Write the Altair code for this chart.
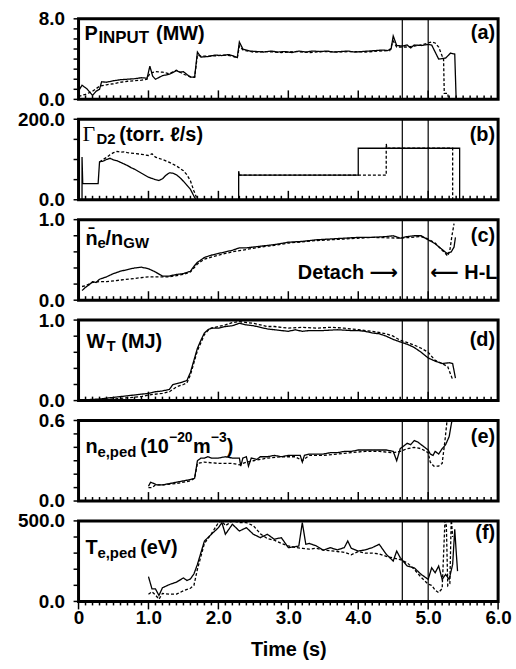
import altair as alt
import pandas as pd

SANS = "Liberation Sans"
SERIF = "Liberation Serif"
W, H = 422, 81

# ---------------- data ----------------
events = [4.63, 5.0]

a_sol_t = [0.0, 0.05, 0.12, 0.2, 0.25, 0.3, 0.33, 0.4, 0.5, 0.6, 0.7, 0.8, 0.9, 0.98, 1.02, 1.06, 1.1, 1.2, 1.3, 1.4,
           1.45, 1.5, 1.6, 1.66, 1.7, 1.75, 1.85, 1.95, 2.05, 2.15, 2.22, 2.27, 2.3, 2.35, 2.45, 2.55, 2.65, 2.75, 2.85,
           2.95, 3.05, 3.15, 3.25, 3.35, 3.45, 3.55, 3.65, 3.75, 3.85, 3.95, 4.05, 4.15, 4.25, 4.35, 4.42, 4.47, 4.5,
           4.55, 4.63, 4.7, 4.75, 4.8, 4.9, 5.0, 5.05, 5.1, 5.15, 5.25, 5.32, 5.38, 5.4, 5.41]
a_sol_v = [0.85, 1.4, 1.05, 0.4, 0.8, 1.0, 1.75, 1.7, 1.85, 1.95, 2.0, 2.05, 2.15, 2.1, 3.3, 2.3, 2.0, 2.35, 2.5, 2.85,
           2.7, 2.75, 2.2, 2.2, 4.7, 4.2, 4.25, 4.4, 4.35, 4.45, 4.3, 4.15, 5.7, 5.0, 4.8, 4.75, 4.7, 4.8, 4.7,
           4.75, 4.65, 4.8, 4.7, 4.8, 4.75, 4.8, 4.7, 4.75, 4.8, 4.7, 4.75, 4.8, 4.85, 4.9, 4.85, 5.0, 6.3,
           5.35, 5.3, 5.4, 5.1, 5.4, 5.35, 5.45, 5.4, 4.7, 4.0, 4.1, 4.6, 4.5, 0.0, 0.0]
a_dsh_t = [0.0, 0.1, 0.2, 0.3, 0.4, 0.5, 0.6, 0.7, 0.8, 0.9, 0.98, 1.02, 1.1, 1.2, 1.3, 1.4, 1.5, 1.6, 1.66, 1.7, 1.75,
           1.9, 2.0, 2.1, 2.2, 2.27, 2.3, 2.35, 2.5, 2.7, 2.9, 3.1, 3.3, 3.5, 3.7, 3.9, 4.1, 4.3, 4.45, 4.5, 4.55,
           4.7, 4.8, 4.9, 5.0, 5.05, 5.1, 5.15, 5.2, 5.22, 5.23, 5.28, 5.29]
a_dsh_v = [0.3, 0.5, 0.8, 1.3, 1.45, 1.55, 1.7, 1.8, 1.85, 1.9, 2.0, 2.6, 2.75, 2.7, 2.55, 2.9, 2.5, 2.25, 2.2, 4.4, 4.3,
           4.3, 4.35, 4.4, 4.3, 4.1, 5.3, 4.9, 4.7, 4.75, 4.65, 4.75, 4.65, 4.75, 4.7, 4.75, 4.7, 4.8, 4.85, 5.8, 5.2,
           5.2, 5.3, 5.4, 5.6, 5.7, 5.6, 5.2, 4.3, 4.1, 0.6, 0.6, 0.0]

b_sol1_t = [0.05, 0.05, 0.06, 0.28, 0.3, 0.35, 0.4, 0.45, 0.5, 0.55, 0.6, 0.65, 0.7, 0.75, 0.8, 0.85, 0.9, 0.95, 1.0,
            1.05, 1.1, 1.15, 1.2, 1.25, 1.3, 1.35, 1.4, 1.45, 1.5, 1.55, 1.6, 1.65, 1.68]
b_sol1_v = [0, 106, 40, 40, 94, 96, 100, 103, 99, 97, 93, 89, 85, 80, 76, 71, 66, 61, 56, 53, 50, 48, 52, 61, 67, 66,
            62, 55, 46, 36, 26, 9, 0]
b_sol2_t = [2.29, 2.29, 2.3, 4.0, 4.0, 5.45, 5.45]
b_sol2_v = [0, 71, 61, 61, 128, 128, 0]
b_dsh1_t = [0.3, 0.35, 0.4, 0.45, 0.5, 0.55, 0.6, 0.65, 0.7, 0.8, 0.9, 1.0, 1.05, 1.1, 1.2, 1.3, 1.4, 1.5, 1.55, 1.6,
            1.65, 1.7]
b_dsh1_v = [94, 100, 105, 112, 117, 120, 118, 119, 117, 115, 113, 110, 114, 106, 100, 93, 84, 72, 62, 47, 22, 0]
b_dsh2_t = [2.29, 4.4, 4.4, 4.41, 5.35, 5.35]
b_dsh2_v = [61, 61, 139, 128, 128, 0]

c_sol_t = [0.05, 0.1, 0.15, 0.2, 0.25, 0.3, 0.4, 0.5, 0.6, 0.7, 0.8, 0.9, 1.0, 1.1, 1.2, 1.3, 1.4, 1.5, 1.6, 1.65,
           1.7, 1.8, 1.9, 2.0, 2.1, 2.2, 2.3, 2.4, 2.5, 2.6, 2.8, 3.0, 3.2, 3.4, 3.6, 3.8, 4.0, 4.2, 4.4, 4.5, 4.6,
           4.7, 4.8, 4.9, 5.0, 5.1, 5.2, 5.27, 5.33, 5.37, 5.39]
c_sol_v = [0.12, 0.16, 0.19, 0.23, 0.22, 0.26, 0.29, 0.33, 0.36, 0.38, 0.4, 0.41, 0.39, 0.35, 0.3, 0.3, 0.32, 0.33,
           0.36, 0.42, 0.47, 0.53, 0.56, 0.58, 0.6, 0.62, 0.65, 0.65, 0.66, 0.67, 0.69, 0.72, 0.73, 0.75, 0.76, 0.77,
           0.78, 0.78, 0.79, 0.8, 0.77, 0.79, 0.8, 0.8, 0.75, 0.7, 0.63, 0.58, 0.6, 0.66, 0.78]
c_dsh_t = [0.05, 0.1, 0.2, 0.3, 0.4, 0.6, 0.8, 1.0, 1.2, 1.3, 1.5, 1.6, 1.7, 1.8, 2.0, 2.2, 2.4, 2.6, 2.8, 3.0, 3.4,
           3.8, 4.2, 4.6, 4.9, 5.0, 5.1, 5.2, 5.28, 5.31, 5.34, 5.37]
c_dsh_v = [0.17, 0.18, 0.22, 0.23, 0.23, 0.25, 0.27, 0.29, 0.29, 0.29, 0.32, 0.35, 0.45, 0.51, 0.56, 0.6, 0.63, 0.66,
           0.68, 0.71, 0.74, 0.76, 0.78, 0.77, 0.79, 0.76, 0.71, 0.62, 0.55, 0.62, 0.8, 0.95]

d_sol_t = [0.1, 0.3, 0.5, 0.7, 0.9, 1.0, 1.1, 1.2, 1.3, 1.35, 1.45, 1.55, 1.6, 1.65, 1.7, 1.75, 1.8, 1.85, 1.9, 2.0,
           2.1, 2.2, 2.3, 2.4, 2.5, 2.6, 2.7, 2.8, 2.9, 3.0, 3.1, 3.2, 3.3, 3.5, 3.7, 3.9, 4.0, 4.1, 4.2, 4.3, 4.4,
           4.5, 4.63, 4.7, 4.8, 4.9, 5.0, 5.1, 5.2, 5.3, 5.35, 5.39]
d_sol_v = [0.01, 0.02, 0.04, 0.06, 0.08, 0.09, 0.11, 0.12, 0.14, 0.2, 0.22, 0.25, 0.35, 0.5, 0.65, 0.75, 0.84, 0.88,
           0.9, 0.9, 0.92, 0.93, 0.96, 0.94, 0.93, 0.91, 0.89, 0.88, 0.87, 0.86, 0.88, 0.86, 0.87, 0.87, 0.88, 0.87,
           0.87, 0.86, 0.84, 0.83, 0.8, 0.76, 0.72, 0.7, 0.66, 0.6, 0.53, 0.49, 0.46, 0.47, 0.46, 0.28]
d_dsh_t = [0.1, 0.5, 0.9, 1.0, 1.2, 1.3, 1.4, 1.5, 1.55, 1.6, 1.65, 1.7, 1.75, 1.8, 1.85, 1.9, 2.0, 2.1, 2.2, 2.3,
           2.4, 2.5, 2.6, 2.7, 2.8, 3.0, 3.2, 3.4, 3.6, 3.8, 4.0, 4.2, 4.4, 4.5, 4.6, 4.8, 4.9, 5.0, 5.1, 5.2, 5.28,
           5.35]
d_dsh_v = [0.0, 0.02, 0.05, 0.07, 0.09, 0.11, 0.17, 0.2, 0.22, 0.32, 0.47, 0.62, 0.72, 0.82, 0.87, 0.9, 0.92, 0.94,
           0.97, 0.98, 0.97, 0.96, 0.94, 0.92, 0.92, 0.9, 0.91, 0.9, 0.91, 0.9, 0.88, 0.86, 0.83, 0.8, 0.75, 0.69,
           0.65, 0.6, 0.5, 0.46, 0.42, 0.26]

e_sol_t = [1.0, 1.03, 1.08, 1.12, 1.2, 1.3, 1.4, 1.5, 1.6, 1.66, 1.7, 1.75, 1.8, 1.85, 1.9, 2.0, 2.1, 2.2, 2.3, 2.32,
           2.35, 2.4, 2.43, 2.47, 2.55, 2.6, 2.7, 2.8, 2.9, 3.0, 3.1, 3.17, 3.2, 3.23, 3.3, 3.4, 3.5, 3.6, 3.7, 3.8,
           3.9, 4.0, 4.1, 4.2, 4.3, 4.4, 4.5, 4.55, 4.6, 4.65, 4.7, 4.75, 4.8, 4.85, 4.9, 4.95, 5.0, 5.03, 5.07, 5.1,
           5.15, 5.2, 5.25, 5.3, 5.34]
e_sol_v = [0.11, 0.14, 0.13, 0.12, 0.12, 0.13, 0.14, 0.15, 0.16, 0.17, 0.3, 0.32, 0.32, 0.33, 0.32, 0.32, 0.33, 0.32,
           0.32, 0.26, 0.32, 0.33, 0.26, 0.32, 0.31, 0.33, 0.33, 0.34, 0.33, 0.34, 0.34, 0.34, 0.29, 0.34, 0.35, 0.35,
           0.35, 0.36, 0.36, 0.37, 0.37, 0.38, 0.38, 0.38, 0.38, 0.38, 0.37, 0.3, 0.39, 0.41, 0.43, 0.42, 0.45, 0.44,
           0.42, 0.4, 0.38, 0.35, 0.34, 0.37, 0.35, 0.39, 0.42, 0.48, 0.6]
e_dsh_t = [1.0, 1.05, 1.1, 1.2, 1.4, 1.6, 1.66, 1.7, 1.8, 2.0, 2.2, 2.3, 2.4, 2.5, 2.7, 2.9, 3.1, 3.2, 3.3, 3.5, 3.7,
           3.9, 4.1, 4.3, 4.5, 4.6, 4.7, 4.8, 4.9, 5.0, 5.03, 5.08, 5.15, 5.2, 5.24, 5.27]
e_dsh_v = [0.1, 0.1, 0.12, 0.12, 0.13, 0.15, 0.17, 0.28, 0.29, 0.28, 0.28, 0.27, 0.29, 0.3, 0.32, 0.33, 0.33, 0.3,
           0.34, 0.34, 0.35, 0.36, 0.37, 0.37, 0.36, 0.37, 0.39, 0.4, 0.39, 0.36, 0.29, 0.26, 0.26, 0.28, 0.45, 0.6]

f_sol_t = [1.0, 1.05, 1.1, 1.15, 1.2, 1.3, 1.4, 1.5, 1.55, 1.6, 1.65, 1.7, 1.8, 1.9, 2.0, 2.05, 2.1, 2.2, 2.3, 2.4,
           2.5, 2.6, 2.7, 2.8, 2.9, 3.0, 3.1, 3.15, 3.2, 3.25, 3.3, 3.4, 3.5, 3.6, 3.7, 3.8, 3.85, 3.9, 4.0, 4.1, 4.2,
           4.3, 4.4, 4.5, 4.55, 4.6, 4.7, 4.8, 4.9, 5.0, 5.05, 5.1, 5.15, 5.2, 5.25, 5.3, 5.35, 5.38, 5.4, 5.42]
f_sol_v = [154, 78, 78, 37, 85, 105, 120, 146, 130, 140, 171, 230, 375, 417, 458, 489, 417, 479, 437, 458, 417, 396,
           417, 386, 396, 334, 340, 344, 489, 355, 360, 345, 318, 334, 320, 334, 375, 330, 313, 320, 334, 355, 293,
           251, 313, 272, 220, 209, 168, 137, 209, 178, 220, 137, 168, 137, 230, 448, 313, 188]
f_dsh_t = [1.0, 1.05, 1.1, 1.15, 1.2, 1.3, 1.4, 1.5, 1.6, 1.65, 1.7, 1.8, 1.9, 2.0, 2.05, 2.1, 2.2, 2.3, 2.4, 2.5,
           2.6, 2.7, 2.8, 2.9, 3.0, 3.1, 3.2, 3.3, 3.4, 3.5, 3.6, 3.7, 3.8, 3.9, 4.0, 4.1, 4.2, 4.3, 4.4, 4.5, 4.6,
           4.7, 4.8, 4.9, 5.0, 5.05, 5.1, 5.15, 5.2, 5.24, 5.26, 5.28, 5.31, 5.33, 5.35]
f_dsh_v = [45, 60, 40, 14, 50, 45, 45, 66, 82, 100, 200, 360, 420, 489, 500, 470, 500, 490, 489, 470, 420, 390, 380,
           360, 345, 335, 330, 325, 330, 320, 315, 310, 305, 290, 310, 300, 300, 295, 280, 270, 260, 240, 200, 150,
           107, 100, 70, 55, 80, 500, 470, 97, 110, 520, 400]

x_major = [0, 1, 2, 3, 4, 5, 6]
x_minor = [round(i * 0.1, 1) for i in range(61) if i % 10 != 0]
a_yticks = [0, 1, 2, 3, 4, 5, 6, 7, 8]
b_yticks = [0, 50, 100, 150, 200]
c_yticks = [0, 0.2, 0.4, 0.6, 0.8, 1.0]
d_yticks = [0, 0.2, 0.4, 0.6, 0.8, 1.0]
e_yticks = [0, 0.1, 0.2, 0.3, 0.4, 0.5, 0.6]
f_yticks = [0, 100, 200, 300, 400, 500]

annot_text = ["Detach \u27f6", "\u27f5 H-L"]
annot_t = [4.57, 5.03]
annot_v = [0.26, 0.26]


# ---------------- helpers ----------------
def frame(series):
    rows = []
    i = 0
    for name, style, ts, vs in series:
        for t, v in zip(ts, vs):
            rows.append({"t": t, "v": v, "g": name, "s": style, "i": i})
            i += 1
    return pd.DataFrame(rows)


FONTS = "Liberation Sans, DejaVu Sans, sans-serif"


def txt(s, x, y, size=20, font=SANS, weight="bold", align="left"):
    return alt.Chart(pd.DataFrame({"k": [0]})).mark_text(
        text=s, font=font, fontSize=size, fontWeight=weight, align=align,
        baseline="alphabetic", color="black"
    ).encode(x=alt.value(x), y=alt.value(y))


def xticks_layer(vals, length, outward):
    y2 = H + length if outward else H - length
    return alt.Chart(pd.DataFrame({"t": vals})).mark_rule(color="black", strokeWidth=1.5).encode(
        x="t:Q", y=alt.value(H), y2=alt.value(y2))


def panel(series, yticks, texts, letter, letter_y, last=False, extra=None):
    ymin, ymax = yticks[0], yticks[-1]
    df = frame(series)
    xs = alt.Scale(domain=[0, 6], nice=False, zero=False)
    if last:
        xaxis = alt.Axis(
            values=x_major, domain=False, grid=False, ticks=False, tickSize=0,
            labelExpr="datum.value == 0 ? '0' : format(datum.value, '.1f')",
            labelOverlap=False, labelFlush=False, labelPadding=7,
            title="Time (s)", titleFont=SANS, titleFontSize=20, titleFontWeight="bold",
            titlePadding=12, titleColor="black",
        )
    else:
        xaxis = None
    yaxis = alt.Axis(
        values=[ymin, ymax], format=".1f", domain=False, grid=False, title=None, ticks=False, tickSize=0,
        labelOverlap=False, labelFlush=False, labelPadding=14,
    )
    lines = alt.Chart(df).mark_line(color="black", strokeWidth=1.3, clip=True).encode(
        x=alt.X("t:Q", scale=xs, axis=xaxis),
        y=alt.Y("v:Q", scale=alt.Scale(domain=[ymin, ymax], nice=False, zero=False), axis=yaxis),
        detail="g:N",
        strokeDash=alt.StrokeDash("s:N", scale=alt.Scale(domain=["solid", "dashed"], range=[[1, 0], [3, 2]]),
                                  legend=None),
        order="i:Q",
    )
    rules = alt.Chart(pd.DataFrame({"t": events})).mark_rule(color="black", strokeWidth=1.2).encode(x="t:Q")
    yt = alt.Chart(pd.DataFrame({"v": yticks})).mark_rule(color="black", strokeWidth=1.5).encode(
        y="v:Q", x=alt.value(0), x2=alt.value(-5))
    layers = [lines, rules, yt,
              xticks_layer(x_minor, 4, last), xticks_layer(x_major, 8 if last else 9, last)]
    for t in texts:
        layers.append(txt(*t[:3], **(t[3] if len(t) > 3 else {})))
    layers.append(txt(letter, 419, letter_y, align="right"))
    if extra is not None:
        layers.append(extra)
    return alt.layer(*layers).properties(width=W, height=H)


pa = panel([("as", "solid", a_sol_t, a_sol_v), ("ad", "dashed", a_dsh_t, a_dsh_v)], a_yticks,
           [("P", 6, 21), ("INPUT", 20, 24, {"size": 17}), ("(MW)", 78, 21)], "(a)", 20)
pb = panel([("bs1", "solid", b_sol1_t, b_sol1_v), ("bs2", "solid", b_sol2_t, b_sol2_v),
            ("bd1", "dashed", b_dsh1_t, b_dsh1_v), ("bd2", "dashed", b_dsh2_t, b_dsh2_v)], b_yticks,
           [("\u0393", 4, 22, {"font": SERIF, "weight": "normal", "size": 22}), ("D2", 18, 25, {"size": 15}),
            ("(torr. \u2113/s)", 41, 22)], "(b)", 22)
ann = alt.Chart(pd.DataFrame({"t": annot_t, "v": annot_v, "txt": annot_text, "al": ["r", "l"]}))
ann_r = ann.transform_filter("datum.al == 'r'").mark_text(
    font=FONTS, fontSize=20, fontWeight="bold", align="right", baseline="alphabetic", color="black"
).encode(x="t:Q", y="v:Q", text="txt:N")
ann_l = ann.transform_filter("datum.al == 'l'").mark_text(
    font=FONTS, fontSize=20, fontWeight="bold", align="left", baseline="alphabetic", color="black"
).encode(x="t:Q", y="v:Q", text="txt:N")
pc = panel([("cs", "solid", c_sol_t, c_sol_v), ("cd", "dashed", c_dsh_t, c_dsh_v)], c_yticks,
           [("n\u0304", 7, 25), ("e", 19, 29, {"size": 15}), ("/n", 27, 25),
            ("GW", 45, 29, {"size": 15})],
           "(c)", 22, extra=alt.layer(ann_r, ann_l))
pdd = panel([("ds", "solid", d_sol_t, d_sol_v), ("dd", "dashed", d_dsh_t, d_dsh_v)], d_yticks,
            [("W", 8, 28), ("T", 28, 31, {"size": 15}), ("(MJ)", 43, 28)], "(d)", 26)
pe = panel([("es", "solid", e_sol_t, e_sol_v), ("ed", "dashed", e_dsh_t, e_dsh_v)], e_yticks,
           [("n", 7, 33), ("e,ped", 19, 37, {"size": 15}), ("(10", 62, 33), ("\u221220", 91, 22, {"size": 14}),
            ("m", 115, 33), ("\u22123", 133, 22, {"size": 14}), (")", 149, 33)], "(e)", 23)
pf = panel([("fs", "solid", f_sol_t, f_sol_v), ("fd", "dashed", f_dsh_t, f_dsh_v)], f_yticks,
           [("T", 7, 33), ("e,ped", 19, 37, {"size": 15}), ("(eV)", 62, 33)], "(f)", 18, last=True)

chart = alt.vconcat(pa, pb, pc, pdd, pe, pf, spacing=20, bounds="flush").properties(
    padding={"left": 15, "top": 6, "right": 3, "bottom": 3}
).configure_view(stroke="black", strokeWidth=3).configure_axis(
    labelFont=SANS, labelFontSize=19, labelFontWeight="bold", labelColor="black"
)

chart.save("out.html", embed_options={"renderer": "svg", "actions": False})
